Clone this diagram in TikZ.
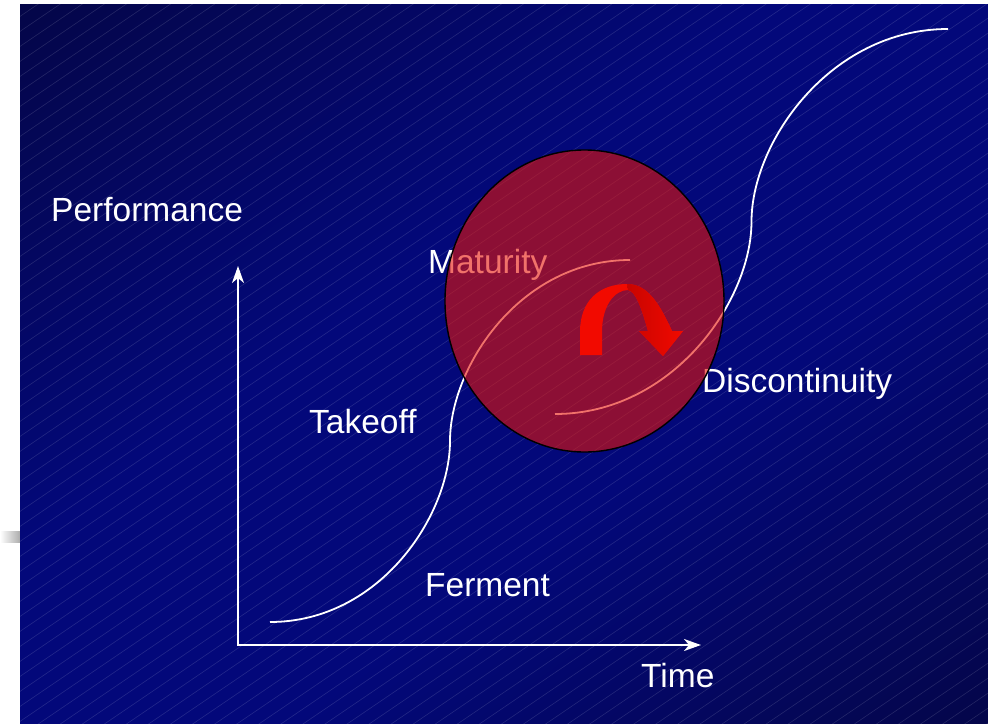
\documentclass[tikz,border=0pt]{standalone}
\usepackage{fontspec}
\setmainfont{Liberation Sans}
\usetikzlibrary{arrows.meta,shapes.geometric}
\definecolor{bgdark}{RGB}{5,5,44}
\definecolor{bgmid}{RGB}{3,8,122}
\definecolor{discred}{RGB}{232,21,7}
\definecolor{arrowred}{RGB}{242,10,0}
\definecolor{arrowdark}{RGB}{200,4,0}
\pgfdeclarehorizontalshading{bgshade}{100bp}{color(0bp)=(bgdark); color(42bp)=(bgmid); color(60bp)=(bgmid); color(100bp)=(bgdark)}
\begin{document}
\begin{tikzpicture}[x=1pt,y=-1pt,
  >={Stealth[length=17pt,width=12pt,inset=5pt]},
  lbl/.style={anchor=base west, inner sep=0pt, text=white, font=\fontsize{33.5}{40}\selectfont},
  axisline/.style={draw=white, line width=1.8pt, <->},
  scurve/.style={draw=white, line width=1.8pt},
  hatch/.style={draw=white, opacity=0.13, line width=0.6pt},
  disc/.style={ellipse, inner sep=0pt, draw=black, line width=1.4pt, fill=discred, fill opacity=0.6}]
\useasboundingbox (0,0) rectangle (988,723);
\fill[white] (0,0) rectangle (988,723);
\shade[left color=white, right color=gray!65] (0,531) rectangle (20,542);
% background
\shade[shading=bgshade, shading angle=-54] (20,4) rectangle (988,723);
\begin{scope}
  \clip (20,4) rectangle (988,723);
  \foreach \c in {0,15,...,1440} \draw[hatch] (0,\c) -- (1000,\c-680);
\end{scope}
% axes
\coordinate (O) at (238,645);
\coordinate (ytip) at (238,266);
\coordinate (xtip) at (701,645);
\draw[axisline] (ytip) -- (O) -- (xtip);
% S-curves
\draw[scurve] (270,622) .. controls (380,622) and (450,515) .. (450,441)
                        .. controls (450,367) and (520,260) .. (630,260);
\draw[scurve] (555,414) .. controls (673,414) and (751.5,300.5) .. (751.5,221.5)
                        .. controls (751.5,142.5) and (830,29) .. (948,29);
% labels
\node[lbl] (perf) at (51,221) {Performance};
\node[lbl] (mat) at (428,273) {Maturity};
\node[lbl] (take) at (309,433) {Takeoff};
\node[lbl] (discont) at (702,392) {Discontinuity};
\node[lbl] (ferm) at (425,596) {Ferment};
\node[lbl] (time) at (641,687) {Time};
% red circle
\node[disc, minimum width=279pt, minimum height=302pt] (circ) at (584.5,301) {};
% U-turn arrow
\fill[arrowred] (580,355) -- (580,332) .. controls (580,300) and (600,284) .. (627,284)
   .. controls (648,284) and (660,305) .. (672,331) -- (683,331) -- (663,356) -- (639,331)
   -- (648,331) .. controls (642,310) and (636,291) .. (628,290)
   .. controls (615,290) and (602,305) .. (602,332) -- (602,355) -- cycle;
\shade[left color=arrowdark, right color=arrowred] (627,284)
   .. controls (648,284) and (660,305) .. (672,331) -- (683,331) -- (663,356) -- (639,331)
   -- (648,331) .. controls (642,310) and (636,291) .. (628,290) -- cycle;
\end{tikzpicture}
\end{document}
